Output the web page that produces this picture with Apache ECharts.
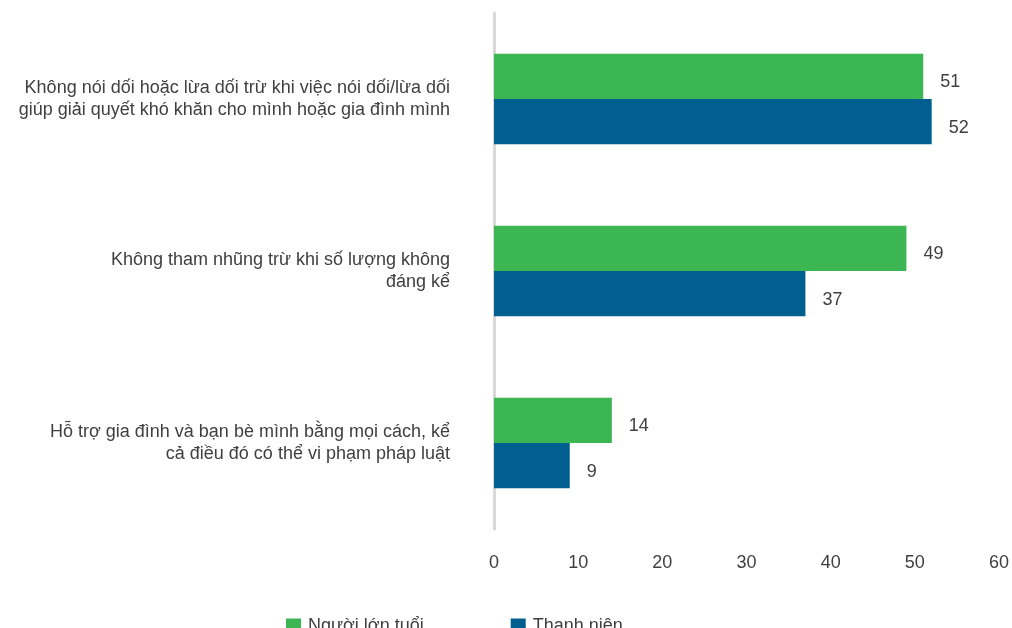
<!DOCTYPE html>
<html>
<head>
<meta charset="utf-8">
<script src="https://cdn.jsdelivr.net/npm/echarts@6/dist/echarts.min.js"></script>
<style>html,body{margin:0;padding:0;background:#fff;}#c{width:1012px;height:628px;}</style>
</head>
<body>
<div id="c"></div>
<script>
const categories = [
  "Không nói dối hoặc lừa dối trừ khi việc nói dối/lừa dối\ngiúp giải quyết khó khăn cho mình hoặc gia đình mình",
  "Không tham nhũng trừ khi số lượng không\nđáng kể",
  "Hỗ trợ gia đình và bạn bè mình bằng mọi cách, kể\ncả điều đó có thể vi phạm pháp luật"
];
const seriesNames = ["Người lớn tuổi", "Thanh niên"];
const olderValues = [51, 49, 14];
const youthValues = [52, 37, 9];
const xTicks = [0, 10, 20, 30, 40, 50, 60];

const chart = echarts.init(document.getElementById('c'), null, {renderer: 'canvas'});
const font = 'Liberation Sans, Arial, sans-serif';
const label = {show: true, position: 'right', distance: 17, offset: [0, 6], color: '#404040', fontSize: 18, fontFamily: font};
chart.setOption({
  animation: false,
  textStyle: {fontFamily: font},
  grid: {left: 494, right: 11, top: 13, bottom: 99, containLabel: false},
  legend: {
    left: 281, top: 612, itemWidth: 15, itemHeight: 15, itemGap: 87, icon: 'rect',
    textStyle: {fontSize: 18, color: '#404040', fontFamily: font, padding: [0, 0, 0, 2]},
    data: seriesNames
  },
  xAxis: {
    type: 'value', min: xTicks[0], max: xTicks[xTicks.length - 1], interval: 10,
    axisLine: {show: false}, axisTick: {show: false}, splitLine: {show: false},
    axisLabel: {color: '#404040', fontSize: 18, margin: 25, fontFamily: font}
  },
  yAxis: {
    type: 'category', inverse: true, data: categories,
    axisLine: {show: true, lineStyle: {color: '#d9d9d9', width: 3}},
    axisTick: {show: false},
    axisLabel: {color: '#404040', fontSize: 18, margin: 44, lineHeight: 22, align: 'right', fontFamily: font}
  },
  series: [
    {name: seriesNames[0], type: 'bar', data: olderValues, barGap: '0%', barCategoryGap: '47.5%',
     itemStyle: {color: '#3cb553'}, label: label},
    {name: seriesNames[1], type: 'bar', data: youthValues, barGap: '0%', barCategoryGap: '47.5%',
     itemStyle: {color: '#005f8f'}, label: label}
  ]
});
</script>
</body>
</html>
